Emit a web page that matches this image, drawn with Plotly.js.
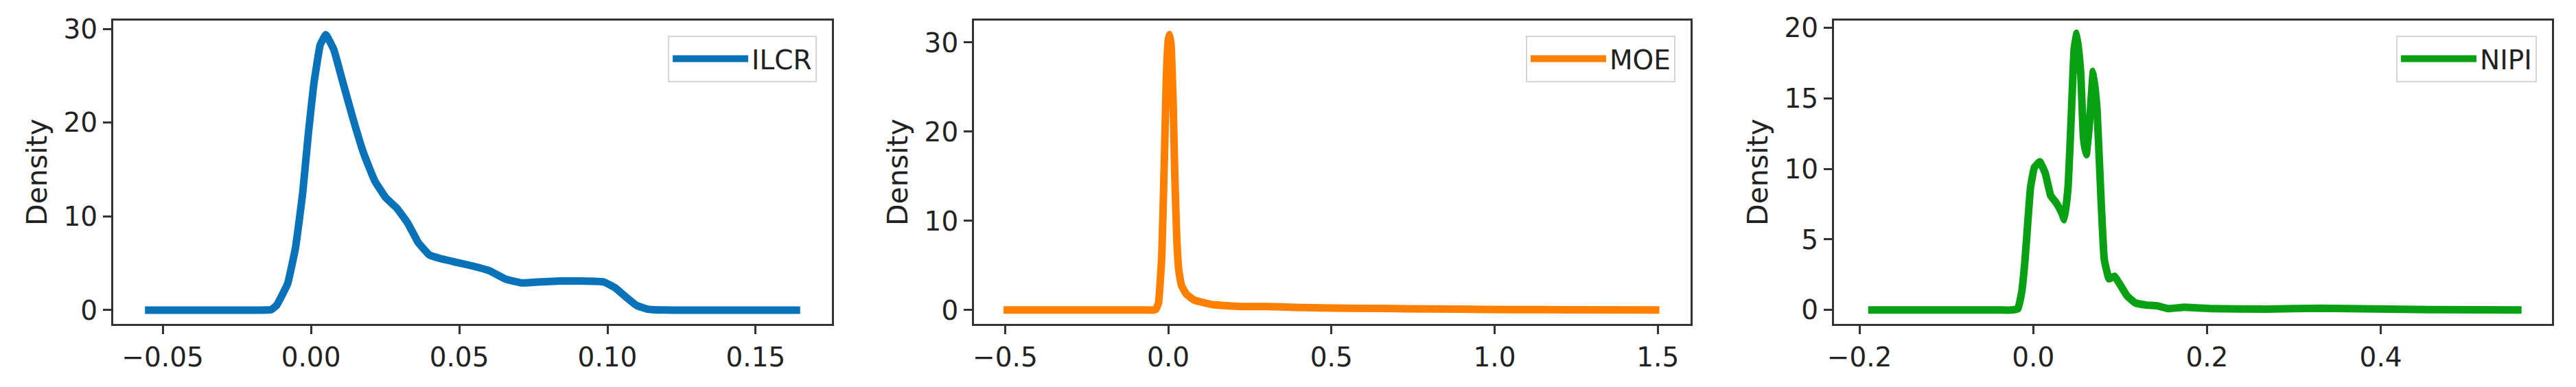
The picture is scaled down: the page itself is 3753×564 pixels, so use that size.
<!DOCTYPE html>
<html>
<head>
<meta charset="utf-8">
<script src="https://cdn.plot.ly/plotly-3.0.1.min.js"></script>
<style>
  body { margin: 0; background: #fff; }
  #plot { width: 3753px; height: 564px; }
</style>
</head>
<body>
<div id="plot"></div>
<script>
// KDE curves (x value, density)
let ilcrX = [-0.056, -0.03, -0.018, -0.0134, -0.0116, -0.0079, -0.0052, -0.0028, -0.0009, 0.0009, 0.0031, 0.005, 0.0077, 0.0105, 0.0142, 0.0178, 0.0215, 0.0252, 0.0289, 0.0326, 0.0362, 0.0399, 0.0436, 0.0491, 0.0546, 0.0602, 0.0657, 0.0712, 0.0767, 0.0841, 0.0914, 0.0988, 0.1025, 0.1062, 0.1098, 0.1135, 0.1172, 0.122, 0.14, 0.165];
let ilcrY = [0, 0, 0, 0.05, 0.5, 2.8, 6.7, 12.5, 18.8, 24, 28.3, 29.4, 27.8, 24.6, 20.4, 16.7, 13.8, 12, 10.9, 9.3, 7.2, 5.9, 5.5, 5.1, 4.7, 4.2, 3.3, 2.9, 3.0, 3.1, 3.1, 3.0, 2.4, 1.4, 0.5, 0.1, 0.02, 0, 0, 0];

let moeX = [-0.505, -0.25, -0.06, -0.045, -0.038, -0.03, -0.02, -0.012, -0.006, 0.0, 0.004, 0.009, 0.015, 0.02, 0.026, 0.032, 0.04, 0.055, 0.08, 0.137, 0.221, 0.305, 0.389, 0.557, 0.724, 0.892, 1.06, 1.227, 1.505];
let moeY = [0, 0, 0, 0, 0.1, 0.8, 6, 17, 26, 30.3, 30.9, 29.5, 23, 15, 8, 4.5, 2.8, 1.8, 1.1, 0.6, 0.4, 0.4, 0.3, 0.2, 0.15, 0.1, 0.05, 0.03, 0.01];

let nipiX = [-0.19, -0.1, -0.04, -0.025, -0.0176, -0.0132, -0.0094, -0.0063, -0.0031, 0.0013, 0.0075, 0.0138, 0.0201, 0.0264, 0.0327, 0.0358, 0.0402, 0.044, 0.0471, 0.0503, 0.0547, 0.0578, 0.061, 0.0647, 0.0691, 0.0735, 0.0779, 0.0817, 0.0873, 0.0936, 0.0999, 0.108, 0.1175, 0.13, 0.1426, 0.155, 0.174, 0.205, 0.268, 0.331, 0.394, 0.457, 0.562];
let nipiY = [0, 0, 0, 0, 0.1, 1.3, 3.6, 6.2, 8.7, 10.1, 10.5, 9.7, 8.1, 7.6, 6.9, 6.4, 8.8, 14.1, 18.5, 19.6, 16.7, 12.2, 11.0, 13.2, 16.9, 14.1, 8.0, 3.6, 2.2, 2.4, 1.8, 1.0, 0.5, 0.35, 0.3, 0.1, 0.2, 0.1, 0.07, 0.12, 0.08, 0.03, 0.01];

let names = ["ILCR", "MOE", "NIPI"];
let colors = ["#0a72b8", "#ff8000", "#0aa014"];

let tickFont = {family: "DejaVu Sans", size: 39, color: "#222"};

function xAxis(domain, range, dtick, fmt) {
  return {
    domain: domain,
    range: range,
    dtick: dtick,
    tick0: 0,
    tickformat: fmt,
    showgrid: false,
    zeroline: false,
    showline: true,
    mirror: true,
    linecolor: "#333",
    linewidth: 3,
    ticks: "outside",
    ticklen: 12,
    tickwidth: 3,
    tickcolor: "#333",
    tickfont: tickFont
  };
}

function yAxis(range, dtick) {
  return {
    domain: [0, 1],
    range: range,
    dtick: dtick,
    tick0: 0,
    showgrid: false,
    zeroline: false,
    showline: true,
    mirror: true,
    linecolor: "#333",
    linewidth: 3,
    ticks: "outside",
    ticklen: 12,
    tickwidth: 3,
    tickcolor: "#333",
    tickfont: tickFont,
    title: {text: "Density", font: {family: "DejaVu Sans", size: 41, color: "#222"}, standoff: 12}
  };
}

function legendAt(x) {
  return {
    x: x, y: 0.951, xanchor: "right", yanchor: "top",
    bgcolor: "#fff", bordercolor: "#d6d6d6", borderwidth: 2,
    itemwidth: 110,
    font: {family: "DejaVu Sans", size: 39, color: "#222"}
  };
}

let xs = [ilcrX, moeX, nipiX];
let ys = [ilcrY, moeY, nipiY];
let data = [];
for (let i = 0; i < 3; i++) {
  let suffix = i == 0 ? "" : String(i + 1);
  data.push({
    x: xs[i],
    y: ys[i],
    name: names[i],
    type: "scatter",
    mode: "lines",
    line: {color: colors[i], width: 11, shape: "spline", smoothing: 0.3},
    xaxis: "x" + suffix,
    yaxis: "y" + suffix,
    legend: "legend" + suffix
  });
}

let layout = {
  width: 3753,
  height: 564,
  autosize: false,
  paper_bgcolor: "#fff",
  plot_bgcolor: "#fff",
  margin: {l: 0, r: 0, t: 30, b: 92, pad: 0},
  showlegend: true,
  xaxis: xAxis([0.04396, 0.32294], [-0.0667, 0.1757], 0.05, ".2f"),
  yaxis: yAxis([-1.47, 30.9], 10),
  xaxis2: xAxis([0.3781, 0.65627], [-0.5955, 1.6005], 0.5, ".1f"),
  yaxis2: yAxis([-1.55, 32.45], 10),
  xaxis3: xAxis([0.71196, 0.99067], [-0.2293, 0.597], 0.2, ".1f"),
  yaxis3: yAxis([-0.98, 20.5], 5),
  legend: legendAt(0.3171),
  legend2: legendAt(0.6504),
  legend3: legendAt(0.9848)
};
layout.xaxis.anchor = "y";
layout.yaxis.anchor = "x";
layout.xaxis2.anchor = "y2";
layout.yaxis2.anchor = "x2";
layout.xaxis3.anchor = "y3";
layout.yaxis3.anchor = "x3";

Plotly.newPlot("plot", data, layout, {displayModeBar: false, staticPlot: true});
</script>
</body>
</html>
